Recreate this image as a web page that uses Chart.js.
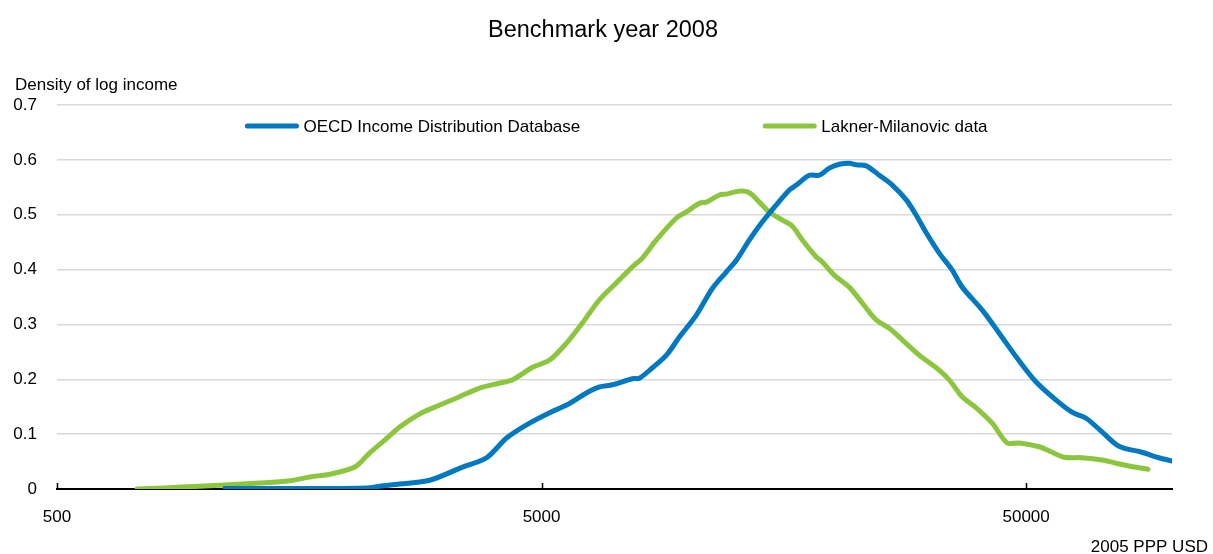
<!DOCTYPE html>
<html>
<head>
<meta charset="utf-8">
<title>Benchmark year 2008</title>
<script src="https://cdn.jsdelivr.net/npm/chart.js@4.4.1/dist/chart.umd.min.js"></script>
<style>
    html, body { margin: 0; padding: 0; background: #fff; }
    canvas { display: block; }
</style>
</head>
<body>
<canvas id="canvas" width="1213" height="554"></canvas>
<script>
// income levels (2005 PPP USD) and density of log income for each source
var oecdIncome = [1110, 1662, 2179, 2317, 2548, 2939, 3436, 3851, 4234, 4656,
    5195, 5630, 6190, 6584, 7004, 7699, 7960, 8468, 9051, 9625,
    10433, 11262, 12035, 12620, 13423, 14280, 15262, 16227, 16775, 17848,
    18718, 19627, 20582, 21573, 22308, 23392, 24886, 26471, 28287, 29663,
    31105, 33087, 35192, 36898, 40596, 43994, 47687, 52435, 57660, 62194,
    66479, 71718, 77737, 86717, 93981, 100000];
var oecdDensity = [0.001, 0.001, 0.002, 0.005, 0.009, 0.016, 0.040, 0.057, 0.093, 0.117,
    0.139, 0.153, 0.175, 0.186, 0.190, 0.201, 0.202, 0.221, 0.244, 0.277,
    0.317, 0.366, 0.396, 0.417, 0.454, 0.487, 0.518, 0.545, 0.554, 0.572,
    0.572, 0.585, 0.592, 0.594, 0.591, 0.589, 0.572, 0.554, 0.527, 0.499,
    0.467, 0.430, 0.399, 0.368, 0.326, 0.284, 0.241, 0.195, 0.162, 0.140,
    0.129, 0.104, 0.078, 0.067, 0.057, 0.051];

var lmIncome = [731, 835, 986, 1311, 1511, 1662, 1828, 2058, 2210, 2373,
    2548, 2803, 3082, 3340, 3725, 4097, 4357, 4790, 5195, 5630,
    6074, 6584, 7138, 7699, 8073, 8629, 9488, 9953, 10589, 10943,
    11641, 12092, 12799, 13423, 14075, 14759, 15699, 16462, 17261, 18449,
    18982, 20089, 21573, 22953, 24531, 26092, 27751, 30086, 32616, 34692,
    36898, 39433, 42556, 45690, 48369, 53200, 56574, 59877, 65247, 71718,
    76634, 81527, 89210];
var lmDensity = [0.000, 0.002, 0.005, 0.011, 0.015, 0.022, 0.027, 0.040, 0.066, 0.089,
    0.113, 0.137, 0.153, 0.166, 0.184, 0.193, 0.199, 0.222, 0.235, 0.266,
    0.303, 0.345, 0.376, 0.405, 0.421, 0.454, 0.494, 0.505, 0.521, 0.523,
    0.536, 0.538, 0.543, 0.540, 0.523, 0.505, 0.490, 0.479, 0.454, 0.423,
    0.414, 0.390, 0.368, 0.339, 0.308, 0.293, 0.272, 0.244, 0.221, 0.199,
    0.168, 0.148, 0.120, 0.084, 0.084, 0.077, 0.067, 0.058, 0.057, 0.053,
    0.047, 0.042, 0.036];

var seriesLabels = ['OECD Income Distribution Database', 'Lakner-Milanovic data'];
var xTicks = [500, 5000, 50000];
var chartTitle = 'Benchmark year 2008';
var yTitle = 'Density of log income';
var xTitle = '2005 PPP USD';

var blue = '#0079c1';
var green = '#8cc63f';

function hasFont(name) {
    var c = document.createElement('canvas').getContext('2d');
    var sample = 'OECD Income mmwwii 0.7';
    c.font = '40px monospace';
    var w = c.measureText(sample).width;
    c.font = '40px "' + name + '", monospace';
    return c.measureText(sample).width !== w;
}

// narrow face for the labels when there is one, plain Arial metrics otherwise
var narrow = hasFont('Liberation Sans Narrow');
var labelFont = narrow
    ? { family: '"Liberation Sans Narrow"', size: 21 }
    : { family: '"Liberation Sans", Arial, sans-serif', size: 17 };
var labelCss = labelFont.size + 'px ' + labelFont.family;

function points(xs, ys) {
    return xs.map(function(x, i) { return { x: x, y: ys[i] }; });
}

var extras = {
    id: 'extras',
    afterDraw: function(chart) {
        var ctx = chart.ctx;
        var area = chart.chartArea;
        var xs = chart.scales.x;
        ctx.save();

        // inner tick marks on the income axis
        ctx.strokeStyle = '#000';
        ctx.lineWidth = 1.5;
        xTicks.forEach(function(v) {
            var px = Math.round(xs.getPixelForValue(v)) + 0.5;
            ctx.beginPath();
            ctx.moveTo(px, area.bottom);
            ctx.lineTo(px, area.bottom - 6);
            ctx.stroke();
        });

        ctx.fillStyle = '#000';
        ctx.textBaseline = 'alphabetic';
        ctx.font = '23.5px "Liberation Sans", Arial, sans-serif';
        ctx.textAlign = 'center';
        ctx.fillText(chartTitle, 603, 37);

        ctx.font = labelCss;
        ctx.textAlign = 'left';
        ctx.fillText(yTitle, 15, 90);
        ctx.textAlign = 'right';
        ctx.fillText(xTitle, 1208, 552);

        // legend row inside the plot area
        var lineLen = 53, gap = 183, textGap = 5;
        var items = chart.data.datasets.map(function(ds) {
            return { label: ds.label, color: ds.borderColor, w: ctx.measureText(ds.label).width };
        });
        var total = 0;
        items.forEach(function(it, i) {
            total += lineLen + textGap + it.w + (i > 0 ? gap : 0);
        });
        var x = (area.left + area.right) / 2 - total / 2 + 2;
        var y = area.top + 21;
        ctx.textAlign = 'left';
        ctx.textBaseline = 'middle';
        items.forEach(function(it) {
            ctx.strokeStyle = it.color;
            ctx.lineWidth = 5;
            ctx.lineCap = 'round';
            ctx.beginPath();
            ctx.moveTo(x + 2, y);
            ctx.lineTo(x + lineLen - 2, y);
            ctx.stroke();
            ctx.fillStyle = '#000';
            ctx.fillText(it.label, x + lineLen + textGap, y + 1);
            x += lineLen + textGap + it.w + gap;
        });
        ctx.restore();
    }
};

window.onload = function() {
    var ctx = document.getElementById('canvas').getContext('2d');
    window.myLine = new Chart(ctx, {
        type: 'line',
        data: {
            datasets: [{
                label: seriesLabels[0],
                data: points(oecdIncome, oecdDensity),
                borderColor: blue,
                backgroundColor: blue,
                borderWidth: 5,
                pointRadius: 0,
                tension: 0.3,
                borderCapStyle: 'round',
                borderJoinStyle: 'round',
                fill: false
            }, {
                label: seriesLabels[1],
                data: points(lmIncome, lmDensity),
                borderColor: green,
                backgroundColor: green,
                borderWidth: 5,
                pointRadius: 0,
                tension: 0.3,
                borderCapStyle: 'round',
                borderJoinStyle: 'round',
                fill: false
            }]
        },
        options: {
            responsive: false,
            animation: false,
            devicePixelRatio: 1,
            layout: {
                padding: { top: 105, right: 41, bottom: 0, left: 0 }
            },
            plugins: {
                legend: { display: false },
                title: { display: false },
                tooltip: { enabled: false }
            },
            scales: {
                x: {
                    type: 'logarithmic',
                    min: 500,
                    max: 100000,
                    afterBuildTicks: function(scale) {
                        scale.ticks = xTicks.map(function(v) { return { value: v }; });
                    },
                    afterFit: function(scale) { scale.height = 65; },
                    grid: { display: false, drawTicks: false },
                    border: { display: true, color: '#000', width: 2 },
                    ticks: {
                        autoSkip: false,
                        maxRotation: 0,
                        padding: 18,
                        color: '#000',
                        font: labelFont,
                        callback: function(v) { return String(v); }
                    }
                },
                y: {
                    min: 0,
                    max: 0.7,
                    afterFit: function(scale) { scale.width = 57; },
                    grid: {
                        drawTicks: false,
                        lineWidth: 1.5,
                        color: function(c) { return c.tick && c.tick.value === 0 ? 'rgba(0,0,0,0)' : '#d9d9d9'; }
                    },
                    border: { display: false },
                    ticks: {
                        stepSize: 0.1,
                        padding: 20,
                        color: '#000',
                        font: labelFont,
                        callback: function(v) { return v === 0 ? '0' : v.toFixed(1); }
                    }
                }
            }
        },
        plugins: [extras]
    });
};
</script>
</body>
</html>
